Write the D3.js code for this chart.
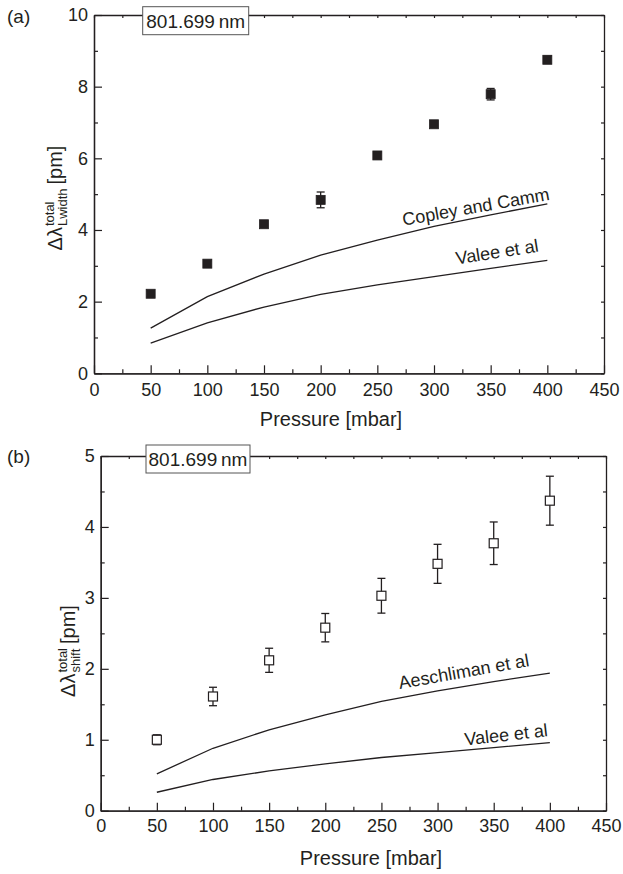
<!DOCTYPE html>
<html>
<head>
<meta charset="utf-8">
<script src="https://cdn.jsdelivr.net/npm/d3@7"></script>
<style>
  body { margin: 0; background: #fff; }
  svg text { font-family: "Liberation Sans", Arial, sans-serif; fill: #231f20; }
  .domain { stroke: #231f20; stroke-width: 1.3; }
  .tick line { stroke: #231f20; stroke-width: 1.2; }
</style>
</head>
<body>
<svg id="chart" width="623" height="874"></svg>
<script>
// pressure values (mbar)
const pressure = [50, 100, 150, 200, 250, 300, 350, 400];

// panel (a): total Lorentz width (pm)
const widthTotal = [2.22, 3.06, 4.16, 4.84, 6.08, 6.95, 7.79, 8.75];
const widthErr = [0.08, 0.08, 0.08, 0.22, 0.08, 0.08, 0.16, 0.1];
const copleyCamm = [1.26, 2.14, 2.77, 3.30, 3.72, 4.10, 4.42, 4.73];
const valeeWidth = [0.84, 1.41, 1.85, 2.20, 2.47, 2.70, 2.93, 3.15];

// panel (b): total shift (pm)
const shiftTotal = [1.0, 1.61, 2.12, 2.58, 3.03, 3.48, 3.77, 4.37];
const shiftErr = [0.07, 0.13, 0.17, 0.2, 0.245, 0.275, 0.3, 0.345];
const aeschliman = [0.52, 0.88, 1.14, 1.35, 1.54, 1.69, 1.82, 1.94];
const valeeShift = [0.26, 0.44, 0.56, 0.66, 0.75, 0.82, 0.89, 0.96];

// ticks
const xMajor = [0, 50, 100, 150, 200, 250, 300, 350, 400, 450];
const xMinor = [25, 75, 125, 175, 225, 275, 325, 375, 425];
const xAll = [0, 25, 50, 75, 100, 125, 150, 175, 200, 225, 250, 275, 300, 325, 350, 375, 400, 425, 450];
const yMajorA = [0, 2, 4, 6, 8, 10];
const yMinorA = [1, 3, 5, 7, 9];
const yMajorB = [0, 1, 2, 3, 4, 5];
const yMinorB = [0.5, 1.5, 2.5, 3.5, 4.5];

const svg = d3.select("#chart");

function drawPanel(cfg) {
  const x = d3.scaleLinear().domain([0, 450]).range(cfg.xRange);
  const y = d3.scaleLinear().domain(cfg.yDomain).range(cfg.yRange);
  const g = svg.append("g");
  const x0 = cfg.xRange[0], x1 = cfg.xRange[1];
  const y0 = cfg.yRange[0], y1 = cfg.yRange[1];
  const fmt = d3.format("d");

  // frame + ticks
  g.append("g").attr("transform", `translate(0,${y0})`)
    .call(d3.axisBottom(x).tickValues(xMinor).tickSize(-4).tickSizeOuter(0).tickFormat(""));
  g.append("g").attr("transform", `translate(0,${y0})`)
    .call(d3.axisBottom(x).tickValues(xMajor).tickSize(-8).tickSizeOuter(0).tickPadding(cfg.xPad).tickFormat(fmt))
    .call(a => a.selectAll("text").attr("font-size", 18));
  g.append("g").attr("transform", `translate(${x0},0)`)
    .call(d3.axisLeft(y).tickValues(cfg.yMinor).tickSize(-4).tickSizeOuter(0).tickFormat(""));
  g.append("g").attr("transform", `translate(${x0},0)`)
    .call(d3.axisLeft(y).tickValues(cfg.yMajor).tickSize(-8).tickSizeOuter(0).tickPadding(6).tickFormat(fmt))
    .call(a => a.selectAll("text").attr("font-size", 18));
  g.append("g").attr("transform", `translate(0,${y1})`)
    .call(d3.axisTop(x).tickValues(xAll).tickSize(-3).tickSizeOuter(0).tickFormat(""));
  g.append("g").attr("transform", `translate(${x1},0)`)
    .call(d3.axisRight(y).tickValues(cfg.yMajor.concat(cfg.yMinor)).tickSize(-3).tickSizeOuter(0).tickFormat(""));
  g.selectAll("text").attr("fill", "#231f20");

  // model curves
  const line = d3.line().x((d, i) => x(pressure[i])).y(d => y(d));
  cfg.curves.forEach(c => {
    g.append("path").datum(c.values)
      .attr("d", line)
      .attr("fill", "none")
      .attr("stroke", "#231f20")
      .attr("stroke-width", 1.3);
    const n = c.values.length - 1;
    g.append("text")
      .attr("transform", `translate(${x(pressure[n]) + c.dx},${y(c.values[n]) + c.dy}) rotate(${-c.angle})`)
      .attr("text-anchor", "end")
      .attr("font-size", 18)
      .text(c.name);
  });

  // error bars
  const eb = g.append("g").attr("stroke", "#231f20").attr("stroke-width", 1.3);
  cfg.values.forEach((v, i) => {
    const px = x(pressure[i]);
    const lo = y(v - cfg.err[i]), hi = y(v + cfg.err[i]);
    eb.append("line").attr("x1", px).attr("x2", px).attr("y1", lo).attr("y2", hi);
    eb.append("line").attr("x1", px - 4).attr("x2", px + 4).attr("y1", lo).attr("y2", lo);
    eb.append("line").attr("x1", px - 4).attr("x2", px + 4).attr("y1", hi).attr("y2", hi);
  });

  // markers
  const s = 9;
  g.append("g").selectAll("rect")
    .data(cfg.values)
    .enter().append("rect")
      .attr("x", (d, i) => x(pressure[i]) - s / 2)
      .attr("y", d => y(d) - s / 2)
      .attr("width", s)
      .attr("height", s)
      .attr("fill", cfg.filled ? "#231f20" : "#fff")
      .attr("stroke", "#231f20")
      .attr("stroke-width", cfg.filled ? 0.8 : 1.2);

  // wavelength box
  g.append("rect")
    .attr("x", x0 + cfg.boxDx).attr("y", y1 + cfg.boxDy)
    .attr("width", cfg.boxW).attr("height", 28)
    .attr("fill", "#fff").attr("stroke", "#555").attr("stroke-width", 1);
  g.append("text")
    .attr("x", x0 + cfg.boxDx + cfg.boxW / 2).attr("y", y1 + cfg.boxDy + 21)
    .attr("text-anchor", "middle").attr("font-size", 19)
    .text("801.699\u2009nm");

  // panel letter
  g.append("text").attr("x", 7).attr("y", cfg.letterY)
    .attr("font-size", 19).text(cfg.letter);

  // x label
  g.append("text").attr("x", cfg.xLabelX).attr("y", cfg.xLabelY)
    .attr("text-anchor", "middle").attr("font-size", 20)
    .text("Pressure [mbar]");

  // y label with stacked super/subscript
  const yl = g.append("g")
    .attr("transform", `translate(${cfg.yLabelX},${cfg.yLabelY}) rotate(-90)`);
  const main = yl.append("text").attr("font-size", 20).text("\u0394\u03bb");
  const w0 = main.node().getComputedTextLength() + 1;
  const sup = yl.append("text").attr("x", w0).attr("y", -8).attr("font-size", 13).text("total");
  const sub = yl.append("text").attr("x", w0).attr("y", 5).attr("font-size", 13).text(cfg.sub);
  const w1 = w0 + Math.max(sup.node().getComputedTextLength(), sub.node().getComputedTextLength()) + 4;
  const unit = yl.append("text").attr("x", w1).attr("font-size", 20).text("[pm]");
  const total = w1 + unit.node().getComputedTextLength();
  yl.selectAll("text").attr("transform", `translate(${-total / 2},0)`);
}

drawPanel({
  xRange: [94, 604], yRange: [373.3, 15], yDomain: [0, 10],
  yMajor: yMajorA, yMinor: yMinorA, xPad: 10,
  values: widthTotal, err: widthErr, filled: true,
  curves: [
    { name: "Copley and Camm", values: copleyCamm, dx: 3, dy: -4, angle: 10 },
    { name: "Valee et al", values: valeeWidth, dx: -8, dy: -9, angle: 9 }
  ],
  boxDx: 48.7, boxDy: -8.3, boxW: 106,
  letter: "(a)", letterY: 23,
  xLabelX: 331, xLabelY: 426,
  yLabelX: 62, yLabelY: 198, sub: "Lwidth"
});

drawPanel({
  xRange: [100.7, 606], yRange: [810.7, 456], yDomain: [0, 5],
  yMajor: yMajorB, yMinor: yMinorB, xPad: 9,
  values: shiftTotal, err: shiftErr, filled: false,
  curves: [
    { name: "Aeschliman et al", values: aeschliman, dx: -20, dy: -7, angle: 10 },
    { name: "Valee et al", values: valeeShift, dx: -1.5, dy: -6.5, angle: 6.5 }
  ],
  boxDx: 45.3, boxDy: -11, boxW: 104,
  letter: "(b)", letterY: 463,
  xLabelX: 371, xLabelY: 865,
  yLabelX: 75, yLabelY: 651, sub: "shift"
});
</script>
</body>
</html>
